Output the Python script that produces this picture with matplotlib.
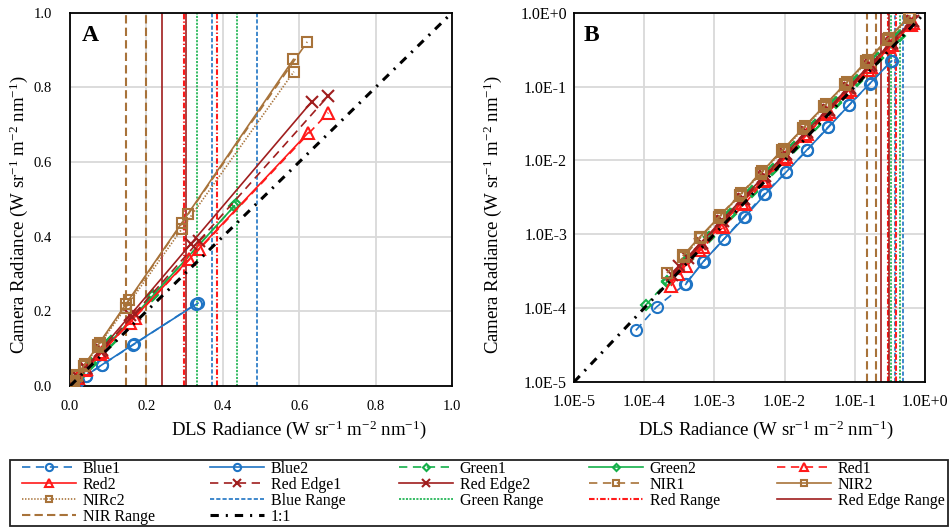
import matplotlib
matplotlib.use("Agg")
import matplotlib.pyplot as plt
from matplotlib.patches import Rectangle

plt.rcParams['font.family'] = ['Liberation Serif', 'DejaVu Serif']
plt.rcParams['mathtext.fontset'] = 'custom'
plt.rcParams['mathtext.rm'] = 'Liberation Serif'
plt.rcParams['mathtext.it'] = 'Liberation Serif:italic'
plt.rcParams['lines.scale_dashes'] = False

# ---------------- data ----------------
blue1_x = [0.000076, 0.00015, 0.00038, 0.00069, 0.00135, 0.0026, 0.0051, 0.0104, 0.021, 0.041, 0.083, 0.165, 0.33]
blue1_y = [0.00005, 0.000104, 0.00021, 0.00042, 0.00085, 0.0017, 0.0035, 0.0069, 0.0138, 0.028, 0.056, 0.11, 0.22]
blue2_x = [0.00039, 0.0007, 0.00137, 0.0027, 0.0053, 0.0106, 0.021, 0.042, 0.084, 0.168, 0.335]
blue2_y = [0.00021, 0.00043, 0.00086, 0.0017, 0.0035, 0.007, 0.014, 0.028, 0.057, 0.113, 0.222]

green1_x = [0.000105, 0.00021, 0.00042, 0.00085, 0.0017, 0.0034, 0.0068, 0.0136, 0.027, 0.054, 0.108, 0.217, 0.435]
green1_y = [0.00011, 0.000225, 0.00046, 0.00093, 0.0019, 0.0038, 0.0076, 0.0152, 0.030, 0.061, 0.121, 0.243, 0.487]
green2_x = [0.00021, 0.00042, 0.00084, 0.00168, 0.0034, 0.0067, 0.0134, 0.0269, 0.054, 0.1075, 0.215, 0.43]
green2_y = [0.00023, 0.00046, 0.00093, 0.0019, 0.0037, 0.0075, 0.015, 0.030, 0.060, 0.12, 0.24, 0.482]

red1_x = [0.00024, 0.0004, 0.00069, 0.00134, 0.0027, 0.0053, 0.0106, 0.0211, 0.0423, 0.0845, 0.169, 0.338, 0.676]
red1_y = [0.0002, 0.00037, 0.00067, 0.00125, 0.0026, 0.0055, 0.0112, 0.0226, 0.0455, 0.0912, 0.183, 0.366, 0.732]
red2_x = [0.000305, 0.00061, 0.00122, 0.00244, 0.00488, 0.00975, 0.0195, 0.039, 0.078, 0.156, 0.312, 0.624]
red2_y = [0.00029, 0.00062, 0.0013, 0.00265, 0.0053, 0.0106, 0.0212, 0.0424, 0.085, 0.17, 0.34, 0.679]

rededge1_x = [0.000245, 0.00042, 0.00066, 0.00132, 0.00264, 0.00528, 0.0106, 0.0211, 0.0423, 0.0845, 0.169, 0.338, 0.676]
rededge1_y = [0.00028, 0.00047, 0.00076, 0.00152, 0.00304, 0.00607, 0.0121, 0.0243, 0.0486, 0.0971, 0.194, 0.389, 0.777]
rededge2_x = [0.00031, 0.00062, 0.00124, 0.00247, 0.00495, 0.0099, 0.0198, 0.0396, 0.079, 0.158, 0.3165, 0.633]
rededge2_y = [0.00037, 0.00074, 0.0015, 0.003, 0.00595, 0.0119, 0.0238, 0.0476, 0.095, 0.19, 0.381, 0.762]

nir1_x = [0.00021, 0.00037, 0.00064, 0.0012, 0.0024, 0.0048, 0.0097, 0.0194, 0.0388, 0.0776, 0.155, 0.31, 0.621]
nir1_y = [0.0003, 0.0005, 0.00092, 0.0018, 0.0036, 0.0072, 0.0144, 0.0288, 0.0576, 0.115, 0.23, 0.461, 0.922]
nir2_x = [0.00036, 0.00062, 0.00115, 0.0023, 0.0046, 0.0092, 0.0183, 0.0366, 0.073, 0.146, 0.293, 0.585]
nir2_y = [0.00052, 0.00092, 0.0017, 0.0034, 0.0068, 0.0137, 0.0273, 0.0547, 0.109, 0.219, 0.4375, 0.875]
nirc2_x = [0.00036, 0.00062, 0.00115, 0.0023, 0.0046, 0.0092, 0.0183, 0.0366, 0.073, 0.146, 0.293, 0.586]
nirc2_y = [0.0005, 0.00088, 0.00165, 0.0033, 0.0066, 0.0132, 0.0263, 0.0526, 0.105, 0.21, 0.421, 0.842]

blue_range = [0.373, 0.489]
green_range = [0.333, 0.436]
red_range = [0.299, 0.386]
rededge_range = [0.24, 0.303]
nir_range = [0.147, 0.198]

one_to_one_lin = [0.0, 1.0]
one_to_one_log = [1e-5, 1.0]

lin_ticks = [0.0, 0.2, 0.4, 0.6, 0.8, 1.0]
lin_ticklabels = ['0.0', '0.2', '0.4', '0.6', '0.8', '1.0']
log_ticks = [1e-5, 1e-4, 1e-3, 1e-2, 1e-1, 1e0]
log_ticklabels = ['1.0E-5', '1.0E-4', '1.0E-3', '1.0E-2', '1.0E-1', '1.0E+0']

# ---------------- styles ----------------
C_BLUE = '#1F74C4'
C_GREEN = '#14B04A'
C_RED = '#FF1A1A'
C_REDEDGE = '#A01E1E'
C_NIR = '#A8733A'

DASH = (0, (6, 4))
series = [
    ('Blue1', blue1_x, blue1_y, C_BLUE, DASH, 'o', 8),
    ('Blue2', blue2_x, blue2_y, C_BLUE, '-', 'o', 8),
    ('Green1', green1_x, green1_y, C_GREEN, DASH, 'D', 5.5),
    ('Green2', green2_x, green2_y, C_GREEN, '-', 'D', 5.5),
    ('Red1', red1_x, red1_y, C_RED, DASH, '^', 8),
    ('Red2', red2_x, red2_y, C_RED, '-', '^', 8),
    ('Red Edge1', rededge1_x, rededge1_y, C_REDEDGE, DASH, 'x', 8),
    ('Red Edge2', rededge2_x, rededge2_y, C_REDEDGE, '-', 'x', 8),
    ('NIR1', nir1_x, nir1_y, C_NIR, DASH, 's', 7.5),
    ('NIR2', nir2_x, nir2_y, C_NIR, '-', 's', 7.5),
    ('NIRc2', nirc2_x, nirc2_y, C_NIR, (0, (1, 1.2)), 's', 7.5),
]
ranges = [
    ('Blue Range', blue_range, C_BLUE, (0, (3, 1.5)), 1.2),
    ('Green Range', green_range, C_GREEN, (0, (1.5, 1.0)), 1.2),
    ('Red Range', red_range, C_RED, (0, (4, 1.5, 1, 1.5)), 1.5),
    ('Red Edge Range', rededge_range, C_REDEDGE, '-', 1.2),
    ('NIR Range', nir_range, C_NIR, (0, (6, 3)), 1.5),
]
ONE_STYLE = dict(color='black', lw=2.2, ls=(0, (6, 5, 1.5, 5)))

fig = plt.figure(figsize=(9.51, 5.27), dpi=100)
axA = fig.add_axes([70/951, 1-386/527, 382/951, (386-12.7)/527])
axB = fig.add_axes([574/951, 1-382/527, 351/951, (382-12.7)/527])

handles = {}
for ax, logscale in ((axA, False), (axB, True)):
    if logscale:
        ax.set_xscale('log')
        ax.set_yscale('log')
    for name, xs, ys, col, ls, mk, ms in series:
        ln, = ax.plot(xs, ys, color=col, ls=ls, lw=1.2, marker=mk, ms=ms,
                      mfc='none', mec=col, mew=1.5, zorder=3)
        handles[name] = ln
    for name, rng, col, ls, lw in ranges:
        for v in rng:
            ln = ax.axvline(v, color=col, ls=ls, lw=lw, zorder=2)
        handles[name] = ln
    oo = one_to_one_log if logscale else one_to_one_lin
    ln, = ax.plot(oo, oo, zorder=4, **ONE_STYLE)
    handles['1:1'] = ln

    ax.grid(True, color='#d9d9d9', lw=1.3, zorder=0)
    ax.set_axisbelow(True)
    for sp in ax.spines.values():
        sp.set_linewidth(1.3)
    ax.tick_params(length=0)
    ax.minorticks_off()

axA.set_xlim(0, 1)
axA.set_ylim(0, 1)
axA.set_xticks(lin_ticks, lin_ticklabels)
axA.set_yticks(lin_ticks, lin_ticklabels)
axA.tick_params(labelsize=10.5)
axA.tick_params(axis='y', pad=13)
axA.tick_params(axis='x', pad=10)

axB.set_xlim(1e-5, 1)
axB.set_ylim(1e-5, 1)
axB.set_xticks(log_ticks, log_ticklabels)
axB.set_yticks(log_ticks, log_ticklabels)
axB.minorticks_off()
axB.tick_params(labelsize=11.5)
axB.tick_params(axis='y', pad=5)
axB.tick_params(axis='x', pad=9)

unit = r' (W sr$^{-1}$ m$^{-2}$ nm$^{-1}$)'
for ax, xl, yl in ((axA, (0.599, -0.118), (-0.134, 0.458)),
                   (axB, (0.547, -0.130), (-0.231, 0.452))):
    ax.set_xlabel('DLS Radiance' + unit, fontsize=13.5)
    ax.set_ylabel('Camera Radiance' + unit, fontsize=13.5)
    ax.xaxis.label.set_verticalalignment('center')
    ax.yaxis.label.set_verticalalignment('center')
    ax.xaxis.set_label_coords(*xl)
    ax.yaxis.set_label_coords(*yl)

axA.text(0.031, 0.967, 'A', transform=axA.transAxes, fontsize=17,
         fontweight='bold', va='top', ha='left')
axB.text(0.026, 0.967, 'B', transform=axB.transAxes, fontsize=17,
         fontweight='bold', va='top', ha='left')

# ---------------- legend (5 columns, row-major order) ----------------
order = ['Blue1', 'Blue2', 'Green1', 'Green2', 'Red1',
         'Red2', 'Red Edge1', 'Red Edge2', 'NIR1', 'NIR2',
         'NIRc2', 'Blue Range', 'Green Range', 'Red Range', 'Red Edge Range',
         'NIR Range', '1:1']
col_x = [25, 213, 402, 592, 780]
for c, x0 in enumerate(col_x):
    names = order[c::5]
    fig.legend([handles[n] for n in names], names, loc='upper left',
               bbox_to_anchor=(x0/951 - 0.004, 1 - 460/527),
               frameon=False, fontsize=11.5, handlelength=3.4,
               handletextpad=0.4, labelspacing=0.0, borderpad=0.05,
               borderaxespad=0, markerscale=0.65)
fig.patches.append(Rectangle((10/951, 1-526/527), 938/951, 66/527,
                             transform=fig.transFigure, fill=False,
                             edgecolor='#222222', lw=1.3))

fig.savefig('out.png', dpi=100)
